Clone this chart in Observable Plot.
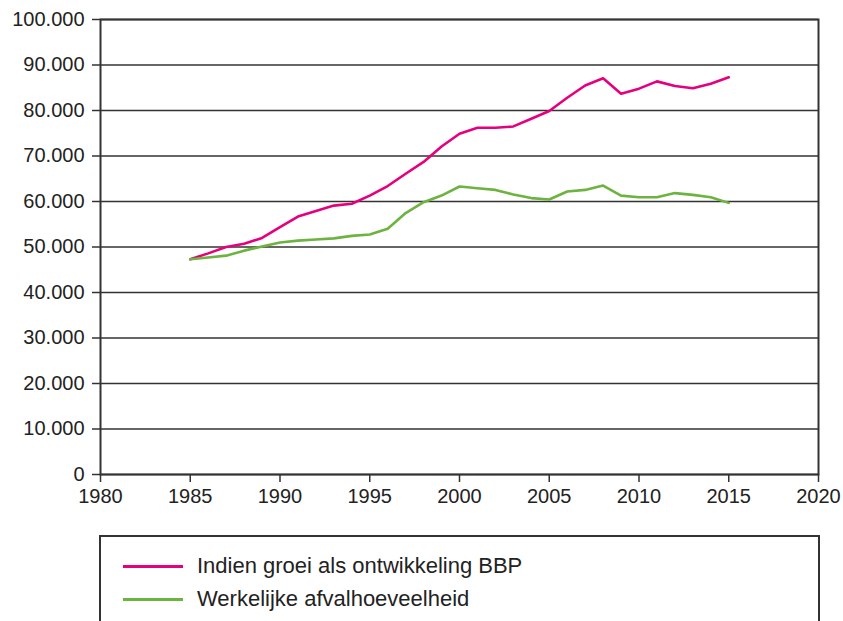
<!DOCTYPE html>
<html>
<head>
<meta charset="utf-8">
<script src="https://cdn.jsdelivr.net/npm/d3@7"></script>
<script src="https://cdn.jsdelivr.net/npm/@observablehq/plot@0.6"></script>
<style>
  html, body { margin: 0; padding: 0; background: #fff; overflow: hidden; }
  body { width: 843px; height: 621px; position: relative; font-family: "Liberation Sans", Arial, sans-serif; }
  #chart { position: absolute; left: 0; top: 0; }
  #legend { position: absolute; left: 99px; top: 535px; width: 721px; height: 110px; border: 2px solid #333; box-sizing: border-box; }
  .item { position: absolute; left: 22px; display: flex; align-items: center; font-size: 22px; color: #222; height: 26px; }
  .swatch { width: 60px; height: 0; border-top: 3px solid; margin-right: 14px; }
</style>
</head>
<body>
<div id="chart"></div>
<div id="legend"></div>
<script>
const years = [1985,1986,1987,1988,1989,1990,1991,1992,1993,1994,1995,1996,1997,1998,1999,2000,
               2001,2002,2003,2004,2005,2006,2007,2008,2009,2010,2011,2012,2013,2014,2015];
const bbp = [47300,48600,50000,50700,52000,54350,56700,57900,59100,59500,61300,63400,66100,68700,72100,74900,
             76200,76200,76500,78200,79900,82800,85500,87100,83700,84800,86400,85400,84900,85900,87300];
const werkelijk = [47300,47700,48100,49200,50100,51000,51400,51650,51900,52450,52750,54000,57450,59850,61300,63300,
                   62900,62550,61550,60750,60450,62200,62550,63500,61300,60950,60950,61850,61450,60950,59700];
const seriesNames = ["Indien groei als ontwikkeling BBP", "Werkelijke afvalhoeveelheid"];
const seriesColors = ["#e5007d", "#6db33f"];
const xTicks = [1980,1985,1990,1995,2000,2005,2010,2015,2020];
const yTicks = [0,10000,20000,30000,40000,50000,60000,70000,80000,90000,100000];

const rows = [];
years.forEach((y, i) => {
  rows.push({year: y, value: bbp[i], series: seriesNames[0]});
  rows.push({year: y, value: werkelijk[i], series: seriesNames[1]});
});

const fmt = d => d3.format(",")(d).replace(/,/g, ".");

const chart = Plot.plot({
  width: 843,
  height: 510,
  marginLeft: 100,
  marginRight: 25,
  marginTop: 19,
  marginBottom: 36,
  style: {fontFamily: "'Liberation Sans', Arial, sans-serif", fontSize: "20px", color: "#222", background: "#fff"},
  x: {domain: [1980, 2020], label: null},
  y: {domain: [0, 100000], label: null},
  color: {domain: seriesNames, range: seriesColors},
  marks: [
    Plot.gridY(yTicks, {stroke: "#333", strokeOpacity: 1, strokeWidth: 1.5}),
    Plot.line(rows, {x: "year", y: "value", z: "series", stroke: "series", strokeWidth: 2.6}),
    Plot.frame({stroke: "#333", strokeWidth: 2}),
    Plot.axisX({ticks: xTicks, tickFormat: d => String(d), tickSize: 8, tickPadding: 6, stroke: "#333", strokeWidth: 1.5, label: null, fontSize: 20}),
    Plot.axisY({ticks: yTicks, tickFormat: fmt, tickSize: 8, tickPadding: 8, stroke: "#333", strokeWidth: 1.5, label: null, fontSize: 20})
  ]
});
document.getElementById("chart").appendChild(chart);

const legend = document.getElementById("legend");
seriesNames.forEach((name, i) => {
  const item = document.createElement("div");
  item.className = "item";
  item.style.top = (16 + i * 33) + "px";
  const sw = document.createElement("span");
  sw.className = "swatch";
  sw.style.borderColor = seriesColors[i];
  const tx = document.createElement("span");
  tx.textContent = name;
  item.appendChild(sw);
  item.appendChild(tx);
  legend.appendChild(item);
});
</script>
</body>
</html>
